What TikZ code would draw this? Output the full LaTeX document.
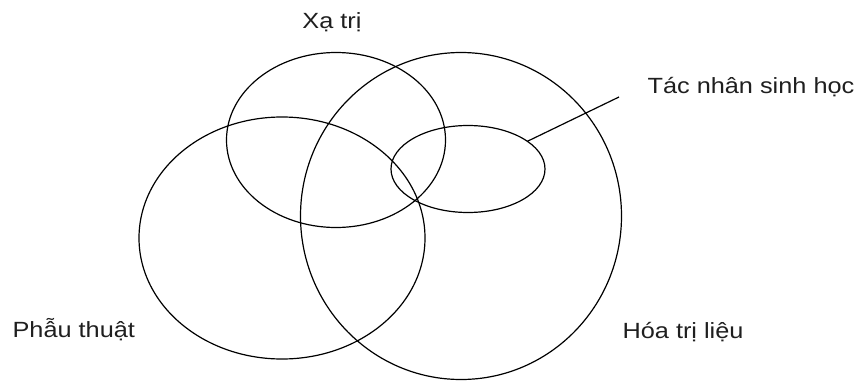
\documentclass[tikz,border=0pt]{standalone}
\usepackage{fontspec}
\setmainfont[FakeStretch=1.15]{Liberation Sans}
\usetikzlibrary{shapes.geometric}

\begin{document}
\begin{tikzpicture}[x=1pt, y=-1pt, line width=1.2pt,
  ring/.style={draw, ellipse, inner sep=0pt, outer sep=0pt},
  lbl/.style={inner sep=0pt, text=black!88, font=\fontsize{22}{24}\selectfont}]
  \useasboundingbox (0,0) rectangle (859,380);
  % the four sets
  \node[ring, minimum width=219pt, minimum height=175pt] (xatri) at (336,140) {};
  \node[ring, minimum width=286pt, minimum height=242pt] (phauthuat) at (282,238) {};
  \node[ring, minimum width=321pt, minimum height=327pt] (hoatri) at (461,216) {};
  \node[ring, minimum width=154pt, minimum height=87pt] (sinhhoc) at (468,169) {};
  % labels
  \node[lbl, anchor=base] (lxatri) at (332,28.3) {Xạ trị};
  \node[lbl, anchor=base west] (lsinhhoc) at (647,93.5) {Tác nhân sinh học};
  \node[lbl, anchor=base west] (lphauthuat) at (12,337.5) {Phẫu thuật};
  \node[lbl, anchor=base west] (lhoatri) at (622,338) {Hóa trị liệu};
  % pointer to the small set
  \coordinate (tip) at (619,97);
  \draw (sinhhoc.25) -- (tip);
\end{tikzpicture}
\end{document}
